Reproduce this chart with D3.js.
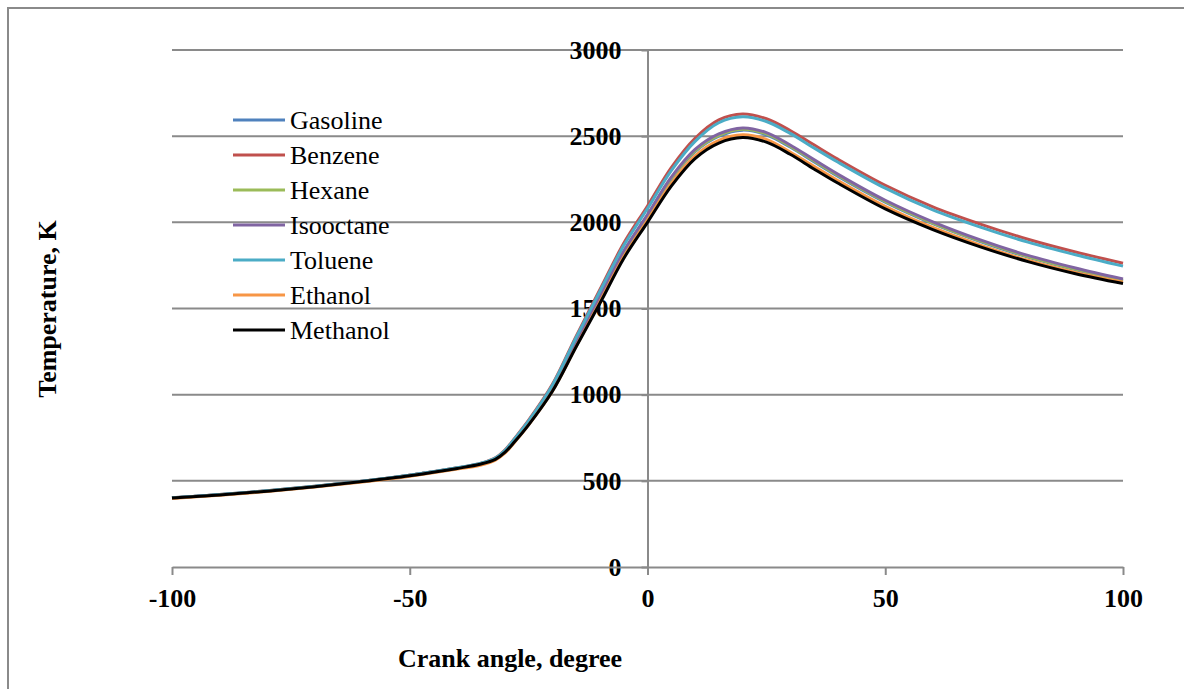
<!DOCTYPE html>
<html>
<head>
<meta charset="utf-8">
<script src="https://cdn.jsdelivr.net/npm/d3@7"></script>
<style>
    body { margin: 0; background: #fff; }
    svg { display: block; }
    .tick text { font-family: "Liberation Serif", "Times New Roman", serif; font-weight: bold; font-size: 26px; fill: #000; }
</style>
</head>
<body>
<svg id="chart" width="1184" height="689"></svg>
<script>
// crank angle (degree)
var crankAngle = [-100, -90, -80, -70, -60, -50, -40, -35, -32, -30, -28, -25, -20, -15, -10, -5, 0, 5, 10, 15, 20, 25, 30, 35, 40, 50, 60, 70, 80, 90, 100];

// temperature (K) per fuel
var gasoline  = [401, 419, 441, 467, 497, 532, 574, 600, 628, 670, 732, 835, 1035, 1300, 1565, 1825, 2035, 2250, 2410, 2500, 2535, 2508, 2437, 2352, 2268, 2117, 1992, 1888, 1798, 1725, 1660];
var benzene   = [402, 420, 442, 468, 498, 533, 576, 602, 633, 678, 745, 852, 1060, 1340, 1610, 1878, 2095, 2318, 2488, 2595, 2629, 2601, 2533, 2450, 2367, 2215, 2090, 1990, 1902, 1828, 1763];
var hexane    = [401, 419, 441, 467, 497, 532, 574, 600, 628, 670, 733, 836, 1037, 1303, 1568, 1828, 2040, 2255, 2415, 2505, 2540, 2513, 2442, 2357, 2273, 2121, 1996, 1892, 1802, 1729, 1664];
var isooctane = [401, 419, 441, 467, 497, 532, 574, 600, 628, 671, 734, 837, 1039, 1306, 1572, 1833, 2045, 2262, 2423, 2513, 2548, 2521, 2449, 2364, 2280, 2128, 2003, 1898, 1808, 1735, 1671];
var toluene   = [402, 420, 442, 468, 498, 533, 576, 602, 632, 676, 742, 848, 1055, 1332, 1600, 1865, 2080, 2300, 2470, 2578, 2612, 2585, 2516, 2432, 2350, 2198, 2072, 1972, 1885, 1812, 1746];
var ethanol   = [398, 416, 438, 464, 493, 527, 568, 592, 620, 660, 722, 825, 1020, 1280, 1540, 1800, 2012, 2225, 2385, 2475, 2508, 2481, 2408, 2325, 2243, 2093, 1970, 1868, 1780, 1709, 1652];
var methanol  = [400, 418, 440, 466, 496, 530, 572, 598, 625, 665, 725, 825, 1020, 1278, 1530, 1790, 2000, 2210, 2370, 2460, 2492, 2465, 2395, 2310, 2228, 2078, 1958, 1858, 1772, 1702, 1645];

var seriesNames = ['Gasoline', 'Benzene', 'Hexane', 'Isooctane', 'Toluene', 'Ethanol', 'Methanol'];
var seriesColors = ['#4F81BD', '#C0504D', '#9BBB59', '#8064A2', '#4BACC6', '#F79646', '#000000'];
var seriesValues = [gasoline, benzene, hexane, isooctane, toluene, ethanol, methanol];

var xTicks = [-100, -50, 0, 50, 100];
var yTicks = [0, 500, 1000, 1500, 2000, 2500, 3000];

var svg = d3.select('#chart');
var margin = {top: 50, right: 61, bottom: 122, left: 172};
var w = +svg.attr('width');
var h = +svg.attr('height');
var gray = '#8a8a8a';
var serif = '"Liberation Serif", "Times New Roman", serif';
var plainNumber = function (d) { return String(d); };

// outer frame (only top and left are in view)
svg.append('rect')
    .attr('x', 8).attr('y', 8)
    .attr('width', 1300).attr('height', 800)
    .attr('fill', 'none')
    .attr('stroke', gray)
    .attr('stroke-width', 2);

var xScale = d3.scaleLinear().domain([-100, 100]).range([margin.left, w - margin.right]);
var yScale = d3.scaleLinear().domain([0, 3000]).range([h - margin.bottom, margin.top]);

// horizontal gridlines
svg.append('g').selectAll('line')
    .data(yTicks.filter(function (d) { return d > 0; }))
    .enter().append('line')
    .attr('x1', xScale(-100)).attr('x2', xScale(100))
    .attr('y1', d => yScale(d)).attr('y2', d => yScale(d))
    .attr('stroke', gray).attr('stroke-width', 2);

// y axis sits at crank angle 0
var yAxis = svg.append('g')
    .attr('transform', 'translate(' + xScale(0) + ',0)')
    .call(d3.axisLeft(yScale).tickValues(yTicks).tickFormat(plainNumber)
        .tickSize(6).tickPadding(20).tickSizeOuter(0));
yAxis.select('.domain').attr('stroke', gray).attr('stroke-width', 2);
yAxis.selectAll('.tick line').attr('stroke', gray).attr('stroke-width', 2);

var xAxis = svg.append('g')
    .attr('transform', 'translate(0,' + yScale(0) + ')')
    .call(d3.axisBottom(xScale).tickValues(xTicks).tickFormat(plainNumber)
        .tickSize(8).tickPadding(14).tickSizeOuter(0));
xAxis.select('.domain').attr('stroke', gray).attr('stroke-width', 2);
xAxis.selectAll('.tick line').attr('stroke', gray).attr('stroke-width', 2);

// series
var line = d3.line()
    .x(function (d, i) { return xScale(crankAngle[i]); })
    .y(function (d) { return yScale(d); })
    .curve(d3.curveCatmullRom.alpha(0.5));

svg.append('g').selectAll('path')
    .data(seriesValues)
    .enter().append('path')
    .attr('d', line)
    .attr('fill', 'none')
    .attr('stroke', (d, i) => seriesColors[i])
    .attr('stroke-width', 3)
    .attr('stroke-linejoin', 'round');

// legend
var legend = svg.append('g').selectAll('g')
    .data(seriesNames)
    .enter().append('g')
    .attr('transform', (d, i) => 'translate(233,' + (120 + i * 35) + ')');
legend.append('line')
    .attr('x1', 0).attr('x2', 52)
    .attr('stroke', (d, i) => seriesColors[i])
    .attr('stroke-width', 3);
legend.append('text')
    .attr('x', 57).attr('dy', '0.35em')
    .style('font-family', serif).style('font-size', '26px')
    .text(d => d);

// axis titles
svg.append('text')
    .attr('x', 510).attr('y', 667)
    .attr('text-anchor', 'middle')
    .style('font-family', serif).style('font-size', '26px').style('font-weight', 'bold')
    .text('Crank angle, degree');

svg.append('text')
    .attr('transform', 'translate(56,309) rotate(-90)')
    .attr('text-anchor', 'middle')
    .style('font-family', serif).style('font-size', '26px').style('font-weight', 'bold')
    .text('Temperature, K');
</script>
</body>
</html>
